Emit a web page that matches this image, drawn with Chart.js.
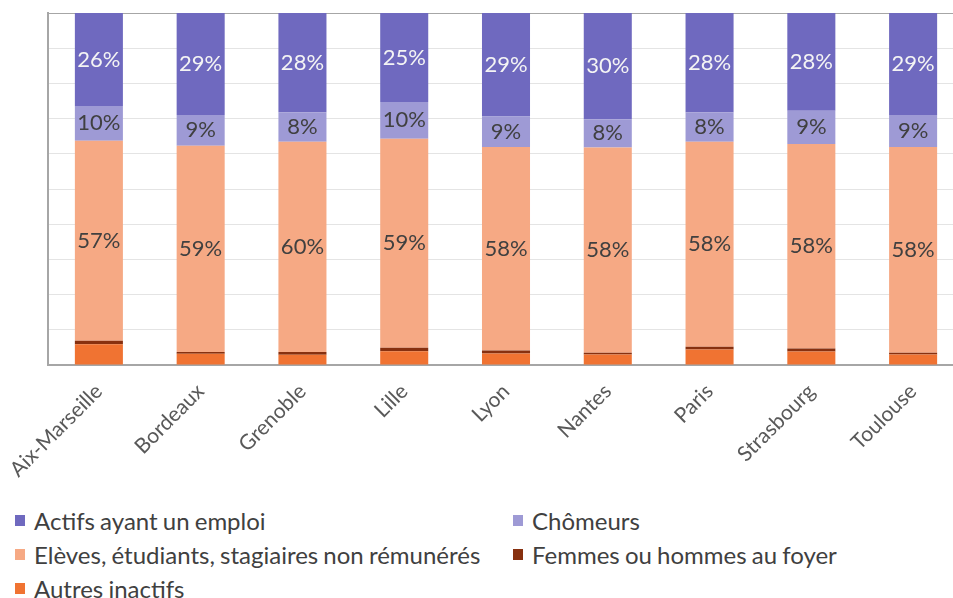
<!DOCTYPE html>
<html lang="fr">
<head>
<meta charset="utf-8">
<title>Population par statut</title>
<script src="https://cdn.jsdelivr.net/npm/chart.js@4.4.1/dist/chart.umd.min.js"></script>
<style>
  html, body { margin: 0; padding: 0; background: #fff; overflow: hidden; }
  #wrap { position: absolute; left: 0; top: 0; width: 970px; height: 490px; }
  #legend {
    position: absolute; left: 15px; top: 508px;
    display: grid; grid-template-columns: 498px auto; row-gap: 10px;
    font-family: Lato, sans-serif; font-size: 24px; color: #404040;
  }
  .item { display: flex; align-items: center; height: 24px; white-space: nowrap; word-spacing: -1px; }
  .box { width: 10px; height: 11px; margin-right: 9px; }
</style>
</head>
<body>
<div id="wrap"><canvas id="chart" width="970" height="490"></canvas></div>
<div id="legend"></div>
<script>
// villes
const cities = ['Aix-Marseille', 'Bordeaux', 'Grenoble', 'Lille', 'Lyon', 'Nantes', 'Paris', 'Strasbourg', 'Toulouse'];

// parts en %
const actifs   = [26.4, 29.0, 28.2, 25.3, 29.4, 30.2, 28.2, 27.8, 29.0];
const chomeurs = [9.9, 8.7, 8.4, 10.4, 8.7, 8.0, 8.4, 9.4, 9.1];
const eleves   = [56.8, 58.6, 59.7, 59.4, 57.8, 58.3, 58.2, 58.1, 58.4];
const foyer    = [1.0, 0.5, 0.8, 1.0, 0.8, 0.5, 0.8, 0.9, 0.5];
const autres   = [5.9, 3.2, 2.9, 3.9, 3.3, 3.0, 4.4, 3.8, 3.0];

const yTicks = [0, 10, 20, 30, 40, 50, 60, 70, 80, 90, 100];

const FONT = 'Lato, sans-serif';

// empilement du bas vers le haut
const datasets = [
  { label: 'Autres inactifs', data: autres, backgroundColor: '#F07332' },
  { label: 'Femmes ou hommes au foyer', data: foyer, backgroundColor: '#87300F' },
  { label: 'Elèves, étudiants, stagiaires non rémunérés', data: eleves, backgroundColor: '#F6A984', valueColor: '#404040' },
  { label: 'Chômeurs', data: chomeurs, backgroundColor: '#9E9AD5', valueColor: '#404040' },
  { label: 'Actifs ayant un emploi', data: actifs, backgroundColor: '#6F69BF', valueColor: '#F4F4F4' }
];

// étiquettes de valeur au centre des segments
const valueLabels = {
  id: 'valueLabels',
  afterDatasetsDraw(chart) {
    const ctx = chart.ctx;
    ctx.save();
    ctx.font = '22px ' + FONT;
    ctx.textAlign = 'center';
    ctx.textBaseline = 'middle';
    chart.data.datasets.forEach((ds, i) => {
      if (!ds.valueColor) return;
      ctx.fillStyle = ds.valueColor;
      chart.getDatasetMeta(i).data.forEach((bar, j) => {
        ctx.fillText(Math.round(ds.data[j]) + '%', bar.x, (bar.y + bar.base) / 2);
      });
    });
    ctx.restore();
  }
};

new Chart(document.getElementById('chart'), {
  type: 'bar',
  data: {
    labels: cities,
    datasets: datasets.map(d => Object.assign({ borderWidth: 0, barPercentage: 0.472, categoryPercentage: 1 }, d))
  },
  options: {
    responsive: false,
    animation: false,
    layout: { padding: { left: 48, right: 6, top: 13, bottom: 0 } },
    plugins: {
      legend: { display: false },
      tooltip: { enabled: false }
    },
    scales: {
      x: {
        stacked: true,
        grid: { display: false, drawTicks: false },
        border: { color: '#A6A6A6', width: 2 },
        ticks: {
          autoSkip: false, minRotation: 45, maxRotation: 45, padding: 14,
          color: '#595959', font: { family: FONT, size: 21 }
        },
        afterFit(scale) {
          scale.height = 125;
          scale.paddingLeft = 0;
          scale.paddingRight = 0;
        }
      },
      y: {
        stacked: true,
        min: 0, max: 100,
        afterBuildTicks(scale) { scale.ticks = yTicks.map(v => ({ value: v })); },
        ticks: { display: false },
        grid: {
          drawTicks: false,
          color: c => c.tick && c.tick.value === 100 ? '#A6A6A6' : '#E4E4E4'
        },
        border: { color: '#A6A6A6', width: 2 },
        afterFit(scale) { scale.width = 0; }
      }
    }
  },
  plugins: [valueLabels]
});

// légende en deux colonnes
const legendOrder = [4, 3, 2, 1, 0];
const legendEl = document.getElementById('legend');
legendOrder.forEach(i => {
  const item = document.createElement('div');
  item.className = 'item';
  item.innerHTML = '<span class="box" style="background:' + datasets[i].backgroundColor + '"></span>' + datasets[i].label;
  legendEl.appendChild(item);
});
</script>
</body>
</html>
